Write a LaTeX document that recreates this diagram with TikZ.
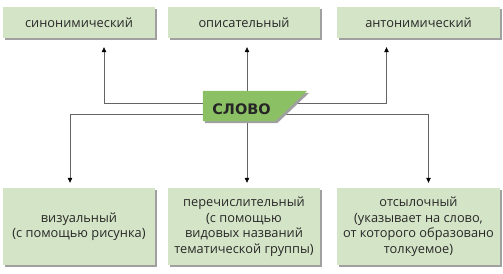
\documentclass[tikz,border=0pt]{standalone}
\usepackage{fontspec}
\setmainfont{Open Sans}
\newfontfamily\wordfont{DejaVu Sans}
\definecolor{boxgreen}{RGB}{212, 228, 198}
\definecolor{wordgreen}{RGB}{140, 192, 100}
\definecolor{shadowgray}{RGB}{160, 160, 160}
\definecolor{textgray}{RGB}{40, 40, 40}
\definecolor{linegray}{RGB}{100, 100, 100}
\usetikzlibrary{arrows.meta, calc, shadows, backgrounds}
\tikzset{
    typebox/.style={rectangle, fill=boxgreen, minimum height=31pt, font=\fontsize{12.8}{15.5}\selectfont, text=textgray, align=center, inner sep=0pt,
        drop shadow={shadow xshift=2pt, shadow yshift=-2pt, fill=shadowgray, opacity=1}},
    narrowbox/.style={typebox, minimum width=152pt},
    widebox/.style={typebox, minimum width=163pt},
    tallbox/.style={minimum height=77pt},
    link/.style={draw=linegray, line width=0.6pt, -{Triangle[length=5pt, width=4.5pt, color=black]}},
    wordshape/.style={inner sep=0pt, minimum width=72pt, minimum height=30pt},
    wordtext/.style={font=\wordfont\fontsize{14.5}{17}\selectfont\bfseries, text=black!85, inner sep=0pt},
}
\begin{document}
\begin{tikzpicture}[x=1pt, y=1pt]
    \useasboundingbox (0,0) rectangle (503,273);

    % upper row
    \node[narrowbox] (syn) at (79,250.5) {синонимический};
    \node[narrowbox] (opis) at (244,250.5) {описательный};
    \node[widebox] (anton) at (418.5,250.5) {антонимический};

    % lower row
    \node[narrowbox, tallbox] (vis) at (79,46.5) {визуальный\\(с помощью рисунка)};
    \node[narrowbox, tallbox] (perech) at (244,46.5) {перечислительный\\(с помощью\\видовых названий\\тематической группы)};
    \node[widebox, tallbox] (otsyl) at (418.5,46.5) {отсылочный\\(указывает на слово,\\от которого образовано\\толкуемое)};

    % central word
    \node[wordshape] (slovo) at (239,167) {};
    \fill[shadowgray] ([shift={(2pt,-2pt)}]slovo.north west) -- ([shift={(34pt,-2pt)}]slovo.north east)
        -- ([shift={(2pt,-2pt)}]slovo.south east) -- ([shift={(2pt,-2pt)}]slovo.south west) -- cycle;
    \fill[wordgreen] (slovo.north west) -- ([xshift=32pt]slovo.north east) -- (slovo.south east) -- (slovo.south west) -- cycle;
    \node[wordtext] (word) at ([xshift=2.5pt, yshift=-3pt]slovo.center) {СЛОВО};

    % arrow ends
    \coordinate (up1) at ([xshift=25pt, yshift=-9pt]syn.south);
    \coordinate (up2) at ([xshift=3pt, yshift=-9pt]opis.south);
    \coordinate (up3) at ([xshift=-32pt, yshift=-9pt]anton.south);
    \coordinate (dn1) at ([xshift=-9pt, yshift=5pt]vis.north);
    \coordinate (dn2) at ([xshift=3pt, yshift=5pt]perech.north);
    \coordinate (dn3) at ([xshift=10pt, yshift=5pt]otsyl.north);

    \begin{scope}[on background layer]
        \draw[link] ([yshift=3pt]slovo.center) -| (up1);
        \draw[link] ([yshift=3pt]slovo.center) -| (up3);
        \draw[link] (up2 |- slovo.center) -- (up2);
        \draw[link] ([yshift=-8pt]slovo.center) -| (dn1);
        \draw[link] ([yshift=-8pt]slovo.center) -| (dn3);
        \draw[link] (dn2 |- slovo.center) -- (dn2);
    \end{scope}
\end{tikzpicture}
\end{document}
